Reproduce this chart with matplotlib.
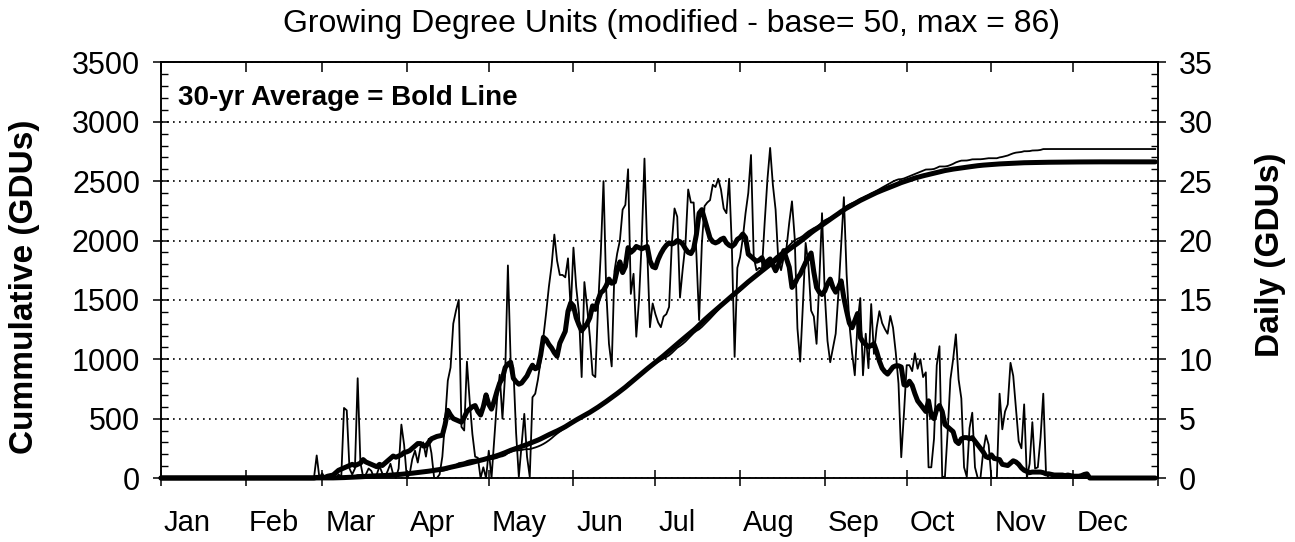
import numpy as np
import matplotlib
matplotlib.use("Agg")
import matplotlib.pyplot as plt
from matplotlib.ticker import MultipleLocator
from matplotlib.transforms import ScaledTranslation

plt.rcParams['font.family'] = ['Liberation Sans', 'DejaVu Sans']

months = ['Jan', 'Feb', 'Mar', 'Apr', 'May', 'Jun', 'Jul', 'Aug', 'Sep', 'Oct', 'Nov', 'Dec']
month_len = [31, 28, 31, 30, 31, 30, 31, 31, 30, 31, 30, 31]

# daily GDUs, current year (thin line), one value per day
cur_jan = [0, 0, 0, 0, 0, 0, 0, 0, 0, 0, 0, 0, 0, 0, 0, 0, 0, 0, 0, 0, 0, 0, 0, 0, 0, 0, 0, 0, 0, 0, 0]
cur_feb = [0, 0, 0, 0, 0, 0, 0, 0, 0, 0, 0, 0, 0, 0, 0, 0, 0, 0, 0, 0, 0, 0, 0, 0, 0, 0, 1.9, 0]
cur_mar = [0.4, 0, 0, 0, 0.1, 0, 0.3, 0.1, 5.9, 5.7, 0.8, 0.3, 0.8, 8.4, 1.3, 0.1, 0.3, 0.8, 0.6, 0, 0.3,
           1.0, 0.4, 0.1, 0.6, 1.2, 0.3, 0, 0.8, 4.5, 2.8]
cur_apr = [0, 0.3, 1.6, 2.3, 1.3, 2.6, 3.0, 1.8, 3.3, 2.1, 0, 0, 0.3, 1.8, 4.8, 8.2, 9.3, 13.0, 14.1, 15.0,
           4.3, 4.0, 9.8, 6.5, 3.7, 1.8, 1.7, 0, 0.9, 0]
cur_may = [2.3, 0, 3.2, 6.5, 8.7, 5.0, 8.8, 17.9, 9.9, 9.3, 3.8, 0.1, 2.8, 5.4, 1.8, 0.1, 6.8, 7.1, 8.3, 9.9,
           11.9, 13.9, 16.1, 17.9, 20.5, 18.3, 17.1, 17.1, 16.9, 18.5, 14.1]
cur_jun = [19.4, 16.1, 13.9, 8.5, 16.5, 14.4, 11.9, 8.7, 8.5, 14.4, 18.9, 25.0, 15.8, 11.3, 9.4, 17.4, 18.9,
           20.0, 22.6, 23.0, 26.0, 15.5, 17.2, 11.9, 15.0, 20.0, 26.9, 19.2, 12.7, 14.7]
cur_jul = [13.8, 13.1, 12.7, 13.6, 13.8, 14.4, 19.7, 22.7, 22.0, 15.2, 17.6, 19.7, 24.3, 23.2, 23.2, 18.9,
           13.3, 19.7, 22.9, 23.2, 23.4, 24.7, 24.5, 25.2, 24.3, 22.7, 22.3, 25.2, 19.4, 10.2, 17.7]
cur_aug = [18.6, 20.2, 22.3, 24.0, 27.2, 18.6, 17.5, 17.7, 17.6, 21.5, 25.1, 27.8, 24.7, 22.6, 18.3, 17.5,
           18.6, 19.4, 21.5, 23.3, 20.2, 12.6, 9.8, 14.6, 19.8, 18.0, 14.1, 13.6, 11.3, 16.6, 22.3]
cur_sep = [15.55, 11.55, 9.75, 10.95, 12.15, 15.55, 19.65, 23.65, 17.15, 13.05, 10.55, 8.65, 13.05, 15.15,
           8.65, 12.15, 9.25, 14.65, 10.45, 12.65, 14.05, 13.05, 12.55, 12.15, 13.65, 12.65, 10.55, 7.95,
           1.75, 5.45]
cur_oct = [9.5, 9.5, 9.0, 10.5, 9.2, 10.0, 8.5, 8.9, 0.9, 0.9, 3.3, 9.5, 11.1, 0.1, 0.1, 3.9, 8.3, 10.0, 12.1,
           8.3, 6.7, 0.9, 0.1, 4.2, 5.5, 0.9, 0, 0, 2.2, 3.6, 2.8]
cur_nov = [0, 0, 0, 7.1, 4.1, 5.6, 6.2, 9.7, 8.6, 5.9, 3.1, 2.5, 6.2, 0, 1.2, 4.7, 0.8, 0.9, 3.4, 7.1, 0.4,
           0, 0, 0, 0, 0, 0, 0, 0, 0]
cur_dec = [0, 0, 0, 0, 0, 0, 0, 0, 0, 0, 0, 0, 0, 0, 0, 0, 0, 0, 0, 0, 0, 0, 0, 0, 0, 0, 0, 0, 0, 0, 0]

# daily GDUs, 30-yr average (bold line)
avg_jan = [0, 0, 0, 0, 0, 0, 0, 0, 0, 0, 0, 0, 0, 0, 0, 0, 0, 0, 0, 0, 0, 0, 0, 0, 0, 0, 0, 0, 0, 0, 0]
avg_feb = [0, 0, 0, 0, 0, 0, 0, 0, 0, 0, 0, 0, 0, 0, 0, 0, 0, 0, 0, 0, 0, 0, 0, 0, 0, 0, 0.05, 0.05]
avg_mar = [0.05, 0.05, 0.15, 0.2, 0.25, 0.45, 0.65, 0.75, 0.85, 0.95, 1.05, 1.15, 1.05, 1.15, 1.25, 1.55,
           1.35, 1.25, 1.15, 1.05, 0.95, 1.15, 1.05, 1.25, 1.45, 1.65, 1.85, 1.75, 1.85, 1.95, 2.15]
avg_apr = [2.2, 2.3, 2.5, 2.7, 2.9, 2.9, 2.7, 2.7, 3.0, 3.3, 3.4, 3.5, 3.55, 3.6, 4.5, 5.7, 5.3, 5.0, 4.9,
           4.8, 4.7, 5.1, 5.6, 5.8, 6.0, 6.1, 5.6, 5.3, 6.0, 7.0]
avg_may = [6.2, 5.8, 6.5, 7.3, 8.0, 8.4, 9.3, 9.6, 9.75, 8.4, 8.1, 7.9, 8.0, 8.3, 8.6, 9.1, 9.5, 9.2, 9.3,
           10.35, 11.85, 11.65, 11.25, 10.95, 10.55, 10.25, 11.35, 11.85, 12.35, 14.05, 14.75]
avg_jun = [14.5, 13.5, 12.9, 12.4, 12.7, 13.0, 13.5, 14.5, 14.2, 15.0, 15.6, 15.8, 16.2, 16.75, 16.4, 16.5,
           17.5, 18.2, 17.3, 17.8, 19.4, 19.0, 19.2, 19.5, 19.4, 19.3, 19.4, 19.5, 18.3, 17.8]
avg_jul = [17.7, 18.4, 18.9, 19.3, 19.6, 19.8, 19.7, 19.8, 20.0, 19.9, 19.7, 19.3, 19.0, 18.9, 19.3, 20.5,
           22.3, 22.6, 21.8, 21.0, 20.2, 19.9, 19.8, 19.9, 20.1, 20.2, 19.8, 19.6, 19.5, 19.7, 20.1]
avg_aug = [20.25, 20.55, 20.25, 18.85, 18.65, 18.45, 18.25, 18.35, 18.55, 17.95, 18.25, 18.45, 17.95, 17.45,
           17.95, 18.45, 19.15, 18.45, 17.75, 16.05, 16.35, 16.85, 17.15, 17.65, 18.15, 18.55, 18.95, 17.35,
           16.05, 15.65, 15.45]
avg_sep = [15.75, 16.35, 16.75, 16.05, 15.65, 16.05, 16.6, 15.15, 14.05, 13.05, 12.65, 13.25, 13.85, 11.85,
           11.45, 11.25, 11.05, 11.15, 11.3, 10.65, 9.85, 9.25, 8.95, 8.75, 9.05, 9.35, 9.45, 9.45, 9.35, 7.85]
avg_oct = [7.8, 8.15, 7.8, 7.1, 6.5, 6.2, 5.9, 5.6, 6.5, 5.2, 5.0, 5.8, 6.1, 5.6, 4.5, 4.3, 4.1, 3.9, 3.1,
           2.9, 3.3, 3.4, 3.4, 3.3, 3.4, 3.1, 2.8, 2.5, 2.2, 1.8, 1.7]
avg_nov = [1.95, 1.65, 1.6, 1.55, 1.15, 1.1, 1.05, 1.25, 1.45, 1.35, 1.15, 0.85, 0.65, 0.55, 0.45, 0.5, 0.5,
           0.5, 0.5, 0.45, 0.35, 0.35, 0.3, 0.25, 0.25, 0.25, 0.25, 0.2, 0.25, 0.2]
avg_dec = [0.15, 0.15, 0.15, 0.2, 0.3, 0.35, 0, 0, 0, 0, 0, 0, 0, 0, 0, 0, 0, 0, 0, 0, 0, 0, 0, 0, 0, 0, 0,
           0, 0, 0, 0]

cur_daily = np.array(cur_jan + cur_feb + cur_mar + cur_apr + cur_may + cur_jun +
                     cur_jul + cur_aug + cur_sep + cur_oct + cur_nov + cur_dec)
avg_daily = np.array(avg_jan + avg_feb + avg_mar + avg_apr + avg_may + avg_jun +
                     avg_jul + avg_aug + avg_sep + avg_oct + avg_nov + avg_dec)
cum_cur = np.cumsum(cur_daily)
cum_avg = np.cumsum(avg_daily)
days = np.arange(len(cur_daily))
month_starts = np.concatenate([[0], np.cumsum(month_len)])

W, H = 1295, 542
fig = plt.figure(figsize=(W / 100, H / 100), dpi=100)
ax = fig.add_axes([161 / W, (H - 478) / H, (1158 - 161) / W, (478 - 62.4) / H])
ax2 = ax.twinx()

# cumulative (left axis)
ax.plot(days, cum_avg, color='k', lw=3.6, solid_capstyle='round', clip_on=False, zorder=3)
ax.plot(days, cum_cur, color='k', lw=1.3, clip_on=False, zorder=3)
# daily (right axis)
ax2.plot(days, avg_daily, color='k', lw=3.6, solid_capstyle='round', solid_joinstyle='round',
         clip_on=False)
ax2.plot(days, cur_daily, color='k', lw=1.3, clip_on=False)

ax.set_xlim(0, 365)
ax.set_ylim(0, 3500)
ax2.set_ylim(0, 35)

ax.set_axisbelow(True)
ax.yaxis.grid(True, which='major', color='k', lw=1.2, linestyle=(0, (1, 2.6)))

ax.yaxis.set_major_locator(MultipleLocator(500))
ax.yaxis.set_minor_locator(MultipleLocator(100))
ax2.yaxis.set_major_locator(MultipleLocator(5))
ax2.yaxis.set_minor_locator(MultipleLocator(1))

for a in (ax, ax2):
    a.tick_params(axis='y', which='major', direction='inout', length=12, width=1.1,
                  labelsize=22, pad=9)
    a.tick_params(axis='y', which='minor', direction='in', length=5, width=1.0)
    for s in a.spines.values():
        s.set_linewidth(1.1)
ax.tick_params(axis='y', which='both', right=False)
ax2.tick_params(axis='y', which='both', left=False)

ax.set_xticks(month_starts)
ax.set_xticklabels(months + [''])
ax.tick_params(axis='x', which='major', direction='inout', length=12, width=1.1,
               labelsize=21, pad=16)
shift = ScaledTranslation(3 / 100, 0, fig.dpi_scale_trans)
for lab in ax.get_xticklabels():
    lab.set_horizontalalignment('left')
    lab.set_transform(lab.get_transform() + shift)

top = ax.secondary_xaxis('top')
top.set_xticks(month_starts)
top.tick_params(axis='x', direction='in', length=7, width=1.1, labeltop=False)
top.spines['top'].set_linewidth(1.1)

ax.set_ylabel('Cummulative (GDUs)', fontsize=24, fontweight='bold')
ax.yaxis.set_label_coords(-0.1214, 0.461)
ax2.set_ylabel('Daily (GDUs)', fontsize=24, fontweight='bold')
ax2.yaxis.set_label_coords(1.0973, 0.537)

ax.text(0.017, 0.914, '30-yr Average = Bold Line', transform=ax.transAxes,
        fontsize=20, fontweight='bold', va='center', ha='left')
fig.text(671.5 / W, 1 - 24 / H, 'Growing Degree Units (modified - base= 50, max = 86)',
         fontsize=23, ha='center', va='center')

fig.savefig('out.png', dpi=100)
